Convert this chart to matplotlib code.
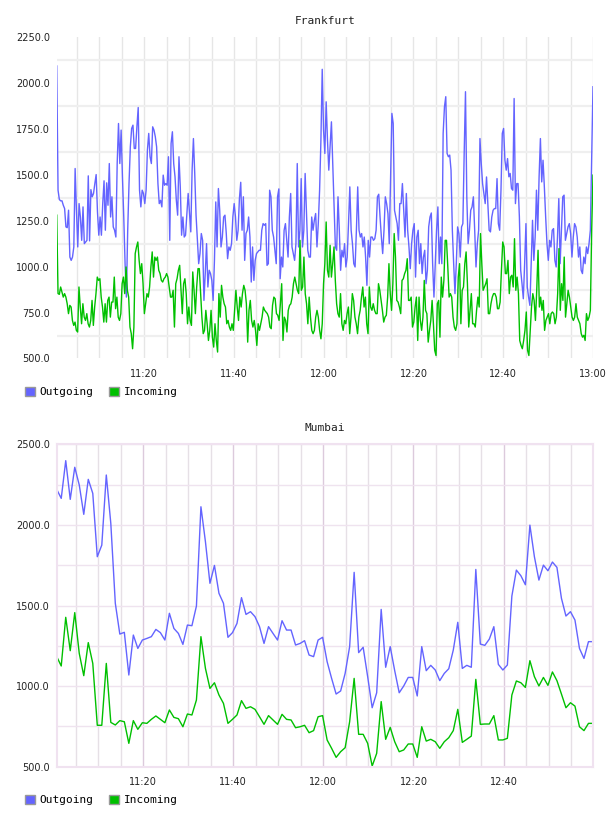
import matplotlib
matplotlib.use("Agg")
import matplotlib.pyplot as plt
import matplotlib.dates as mdates
from matplotlib.patches import Patch
import pandas as pd

# Frankfurt (roughly every 20s)
fra_start = "2020-01-01 11:00:30"
fra_end = "2020-01-01 13:00:00"
fra_out = [
    2092,1416,1365,1358,1358,1334,1316,1216,1212,1307,1052,1034,1052,1107,1534,1307,1107,1343,1270,1143,
    1325,1125,1134,1143,1494,1140,1419,1380,1398,1452,1501,1298,1171,1270,1171,1343,1467,1198,1456,1334,
    1561,1270,1380,1216,1198,1161,1561,1779,1561,1743,1489,1270,1016,834,1198,1452,1652,1752,1770,1643,
    1643,1761,1866,1416,1325,1416,1398,1343,1416,1634,1725,1598,1561,1761,1743,1707,1652,1452,1343,1361,
    1325,1498,1443,1452,1443,1598,1143,1670,1734,1561,1489,1361,1280,1598,1434,1171,1270,1161,1171,
    1280,1398,1289,1189,1525,1697,1507,1280,1143,1016,1071,1180,1143,816,962,1125,889,980,962,925,
    816,1034,1352,1107,1425,1307,1107,1161,1270,1280,1180,1043,1107,1089,1125,1270,1343,1270,1143,1198,
    1370,1459,1198,1380,1034,1180,1198,1270,1161,916,1107,925,1034,1071,1080,1089,1089,1198,1234,1225,
    1234,1007,1016,1416,
    1380,1198,1161,1089,1016,1380,1423,934,1052,998,1198,1234,1143,1052,1270,1398,1107,1071,1034,
    1125,1561,1107,1198,1479,1107,1198,1507,1289,1089,1052,1052,1270,1198,1252,1289,1107,1234,1416,1688,
    2074,1743,1616,1897,1688,1525,1652,1788,1561,1343,1107,1089,1380,1198,980,1089,1052,1125,998,1052,
    1234,1434,1198,1125,1016,998,1198,1434,1198,1161,1180,1107,1161,1052,898,1143,1052,1161,1161,1143,
    1152,1198,1380,1394,
    1270,1161,1071,1198,1380,1343,1289,1125,1470,1834,1779,1307,1270,1234,1143,1343,1343,1452,1307,
    1161,1398,1198,1107,989,1125,1198,1234,943,1161,1198,1016,1125,962,1052,1089,907,980,1216,1270,
    1292,1016,834,1016,1198,1325,1016,1161,1016,1725,1870,1925,1616,1598,1607,1525,1198,1016,853,1016,
    1216,1180,1052,1216,1234,1616,1952,1380,1125,1198,1307,1325,1380,1198,998,1125,1198,1697,1561,1452,
    1398,1343,1488,1343,
    1198,1189,1270,1307,1316,1316,1479,1234,1198,1416,1725,1752,1579,1525,1588,1489,1507,1425,1416,
    1915,1343,1452,1452,1270,980,907,825,1016,1234,889,834,789,1016,1252,1034,1161,1416,1198,1489,
    1697,1461,1579,1434,1270,1125,1034,1143,1107,1198,1207,1034,998,1161,1370,1016,1198,1380,1389,1143,
    1180,1216,1234,1180,1052,1161,1234,1216,1161,1052,1107,980,962,1052,1016,1107,1071,1125,1198,1598,
    1979,
]
fra_in = [
    1280,853,849,889,862,834,853,834,798,744,789,780,707,680,698,653,644,889,780,689,
    798,725,707,744,689,671,707,816,680,780,853,943,925,934,834,780,698,798,698,816,
    834,725,807,807,943,771,834,725,707,744,907,943,853,998,871,834,671,635,553,671,
    1071,1107,1134,1034,962,1016,907,744,798,853,834,889,998,1080,943,1052,1034,1052,980,962,
    925,916,934,943,
    962,943,889,834,834,871,671,907,934,980,1007,871,744,907,934,853,689,780,707,
    680,971,871,744,889,989,989,853,725,635,653,762,689,598,653,762,616,562,689,598,
    535,853,725,898,834,798,780,689,707,671,653,689,653,762,871,780,707,834,780,853,
    898,871,798,589,762,816,707,671,707,653,571,689,653,689,725,780,762,753,744,725,
    671,662,789,834,
    825,744,735,707,798,907,598,725,707,644,762,789,798,834,907,943,907,871,853,1143,
    871,889,1052,853,798,689,834,725,653,635,653,725,762,725,653,607,689,907,1016,1243,
    980,943,1116,943,1016,1107,925,798,744,725,853,689,653,707,689,744,780,635,725,853,
    816,725,689,635,725,762,834,889,780,834,689,635,889,780,762,798,762,744,744,907,
    871,816,
    762,698,725,735,834,1016,853,762,907,1180,1052,816,807,780,744,925,934,962,980,
    1043,816,816,834,671,698,780,834,598,834,707,653,725,925,762,744,589,653,707,816,
    689,544,516,798,816,616,943,834,925,1143,1143,998,834,853,834,725,671,653,689,943,
    1016,689,871,889,1016,1080,907,671,762,853,689,689,671,762,834,780,1180,1016,871,889,
    907,934,744,
    744,798,834,853,853,834,771,771,807,980,1134,1107,962,962,1034,853,943,953,889,
    1152,871,943,853,598,571,553,598,653,753,544,516,653,780,853,816,707,871,1089,780,
    834,762,816,653,707,725,744,689,744,753,744,689,725,853,1098,762,907,816,1052,725,
    798,871,834,780,725,707,725,798,725,707,689,635,616,626,598,744,707,725,762,1198,
    1498,
]

# Mumbai, one value a minute
mum_start = "2020-01-01 11:00:50"
mum_end = "2020-01-01 12:59:50"
mum_out = [
    2221,2165,2399,2159,2358,2248,2066,2283,2196,1803,1875,2310,2010,1514,1323,1334,1069,1317,1234,1286,
    1296,1307,1352,1332,1286,1452,1358,1327,1259,1379,1375,1497,2113,1896,1638,1749,1576,1514,1303,1332,
    1389,1549,1445,1462,1431,1369,1265,1369,1327,1286,1406,1348,1348,1255,1265,1282,1193,1183,1286,
    1303,1152,1048,951,970,1079,1245,1706,1208,1241,1059,866,959,1476,1117,1245,1096,959,1001,1054,
    1054,939,1245,1096,1129,1100,1034,1079,1108,1224,1396,1110,1129,1117,1724,1261,1253,1292,1369,1135,
    1100,1131,1559,1720,1685,1629,1999,1803,1658,1751,1716,1770,1737,1545,1435,1462,1410,1234,1172,1276,
    1276,
]
mum_in = [
    1183,1125,1427,1220,1456,1203,1065,1270,1141,757,757,1141,775,759,786,779,645,786,732,773,
    769,794,815,794,773,852,806,798,748,827,821,914,1307,1110,986,1021,945,893,769,794,
    821,910,862,872,856,810,763,817,790,763,825,794,790,742,748,757,711,724,810,
    817,666,614,558,593,618,779,1048,701,701,645,504,583,904,670,744,655,593,604,641,
    641,558,748,659,670,655,614,655,680,724,856,651,670,690,1042,763,765,765,817,666,
    666,676,945,1032,1021,992,1158,1059,1001,1054,1005,1088,1034,951,866,897,876,748,724,769,
    769,
]

fra_ticks = [500, 750, 1000, 1250, 1500, 1750, 2000, 2250]
fra_grid = [625, 875, 1125, 1375, 1625, 1875, 2125]
mum_ticks = [500, 1000, 1500, 2000, 2500]
mum_grid = [750, 1250, 1750, 2250]

blue = "#6464ff"
green = "#00c000"


def times(start, end, vals):
    return pd.date_range(start, end, periods=len(vals))


def draw_panel(ax, title, t0, t1, out, inc, ticks, grid, ylim, hcol, vcol, majcol, border):
    ax.plot(times(t0, t1, out), out, color=blue, lw=1.0)
    ax.plot(times(t0, t1, inc), inc, color=green, lw=1.0)
    ax.set_xlim(pd.Timestamp(t0), pd.Timestamp(t1))
    ax.set_ylim(*ylim)

    ax.xaxis.set_major_locator(mdates.MinuteLocator(byminute=[0, 20, 40]))
    ax.xaxis.set_minor_locator(mdates.MinuteLocator(byminute=range(0, 60, 5)))
    ax.xaxis.set_major_formatter(mdates.DateFormatter("%H:%M"))
    ax.set_yticks(ticks)
    ax.set_yticks(grid, minor=True)
    ax.yaxis.set_major_formatter(plt.FormatStrFormatter("%.1f"))

    ax.tick_params(which="both", length=0, labelsize=7, colors="#222222")
    ax.tick_params(axis="x", pad=7.5)
    ax.tick_params(axis="y", pad=5)

    ax.grid(True, which="minor", axis="x", color=vcol, lw=1.0)
    ax.grid(True, which="major", axis="x", color=majcol, lw=1.0)
    if border is None:
        # no frame, horizontal lines sit between the labels
        ax.grid(True, which="minor", axis="y", color=hcol, lw=1.6)
        for s in ax.spines.values():
            s.set_visible(False)
    else:
        ax.grid(True, which="both", axis="y", color=hcol, lw=1.0)
        for s in ax.spines.values():
            s.set_color(border)
            s.set_linewidth(1.5)
    ax.set_axisbelow(True)

    ax.text(0.5, 1.05, title, transform=ax.transAxes, ha="center", va="center",
            fontsize=8, family="DejaVu Sans Mono", color="#222222")

    handles = [Patch(facecolor=blue, edgecolor="#999999", label="Outgoing"),
               Patch(facecolor=green, edgecolor="#999999", label="Incoming")]
    ax.legend(handles=handles, loc="center left", bbox_to_anchor=(-0.068, -0.104),
              ncol=2, frameon=False, handlelength=0.9, handleheight=0.9,
              handletextpad=0.45, columnspacing=1.4, borderaxespad=0,
              prop={"family": "DejaVu Sans Mono", "size": 8})


fig = plt.figure(figsize=(6.08, 8.16), dpi=100)
ax1 = fig.add_axes([0.0933, 0.5607, 0.882, 0.394])
ax2 = fig.add_axes([0.0933, 0.0604, 0.882, 0.395])

draw_panel(ax1, "Frankfurt", fra_start, fra_end, fra_out, fra_in, fra_ticks, fra_grid,
           (500, 2250), "#efefef", "#e6e6e6", "#e6e6e6", None)
draw_panel(ax2, "Mumbai", mum_start, mum_end, mum_out, mum_in, mum_ticks, mum_grid,
           (500, 2500), "#efe3ef", "#e6e0e6", "#dccadc", "#f0e2f0")

fig.savefig("out.png", dpi=100)
